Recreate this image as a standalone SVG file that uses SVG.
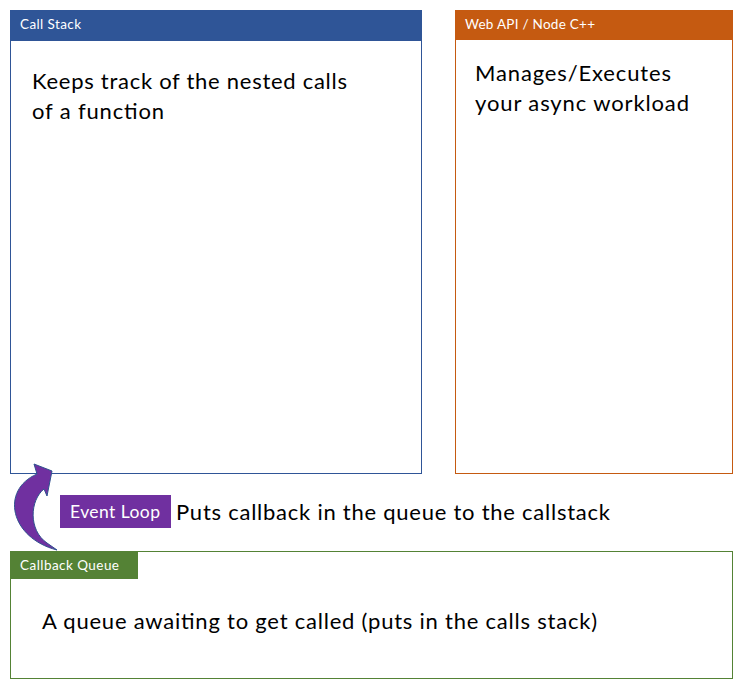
<svg xmlns="http://www.w3.org/2000/svg" width="743" height="688" viewBox="0 0 743 688">
<style>
text { font-family: "Lato", "Liberation Sans", sans-serif; }
.hdr { font-size: 13.5px; fill: #ffffff; }
.body { font-size: 22px; fill: #000000; }
.box { fill: #ffffff; stroke-width: 1; }
</style>
<rect width="743" height="688" fill="#ffffff"/>
<g id="call-stack">
  <rect class="box" x="10.5" y="10.5" width="411" height="463" stroke="#2F5597"/>
  <rect x="10" y="10" width="412" height="31" fill="#2F5597"/>
  <text class="hdr" x="20" y="29" textLength="61">Call Stack</text>
  <text class="body" x="32" y="89" textLength="315">Keeps track of the nested calls</text>
  <text class="body" x="32" y="119" textLength="132">of a function</text>
</g>
<g id="web-api">
  <rect class="box" x="455.5" y="10.5" width="277" height="463" stroke="#C55A11"/>
  <rect x="455" y="10" width="278" height="30" fill="#C55A11"/>
  <text class="hdr" x="465" y="29" textLength="130">Web API / Node C++</text>
  <text class="body" x="475" y="81" textLength="196">Manages/Executes</text>
  <text class="body" x="475" y="111" textLength="214">your async workload</text>
</g>
<g id="callback-queue">
  <rect class="box" x="10.5" y="551.5" width="722" height="127" stroke="#548235"/>
  <rect x="10" y="551" width="128" height="28" fill="#548235"/>
  <text class="hdr" x="20" y="570" textLength="99">Callback Queue</text>
  <text class="body" x="42" y="629" textLength="555">A queue awaiting to get called (puts in the calls stack)</text>
</g>
<g id="event-loop">
  <rect x="60" y="495" width="111" height="33" fill="#7030A0"/>
  <text x="70" y="518" font-size="17.5" fill="#ffffff" textLength="90">Event Loop</text>
  <text class="body" x="176" y="520" textLength="434">Puts callback in the queue to the callstack</text>
</g>
<g id="connectors">
  <path d="M 57,550 C 10,538 0,490 37,474 L 34,464 L 52,471 L 47,496 L 44,489 C 30,500 28,530 47,543 Z" fill="#7030A0" stroke="#2F528F" stroke-width="1" stroke-linejoin="round"/>
</g>
</svg>
